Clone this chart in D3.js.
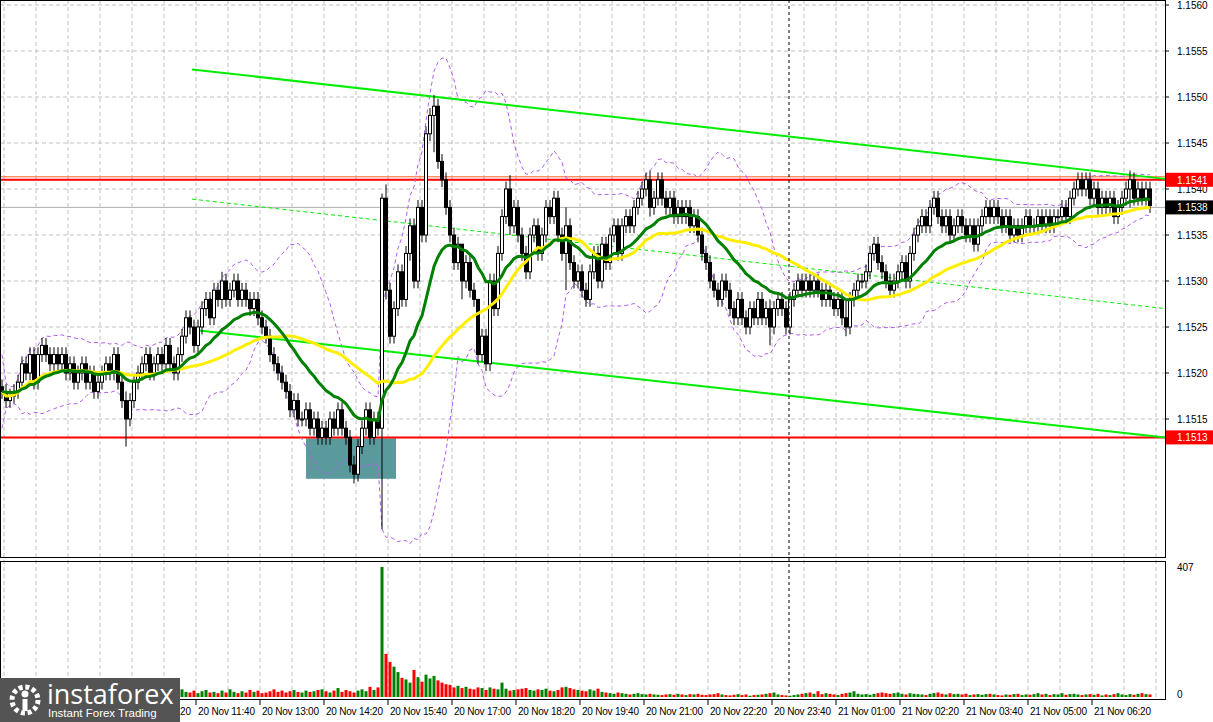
<!DOCTYPE html>
<html><head><meta charset="utf-8">
<script src="https://cdn.jsdelivr.net/npm/d3@7"></script>
<style>body{margin:0;background:#fff}svg{display:block;font-family:"Liberation Sans",Arial,sans-serif}</style>
</head><body>
<script>
// closes in pips above 1.1500, one per 5-minute bar
const closes = [
 18,17,17.5,18,19, 21,20,22,19,22, 23,22,21,22,21, 22,20,21,19,20,
 21,19,20,18,19, 20,21,20,22,19, 17,15,17,19,20, 21,22,20,21,22,
 21,23,21,20,22, 24,26,25,23,25, 27,28,26,29,28, 30,28,29,30,28,
 29,28,27,28,26, 25,24,22,21,20, 19,18,16,17,15, 15,16,14,15,13,
 14,13,15,14,16, 14,13,10,9,12, 14,16,13,15,14, 39,29,24,27,31,
 28,33,36,30,38, 35,46,48,49,43, 41,38,35,32,34, 30,32,29,28,22,
 24,21,30,27,33, 37,40,36,38,35, 33,31,35,36,33, 35,38,37,39,35,
 33,36,32,30,31, 29,28,31,33,30, 34,32,35,36,33, 36,37,36,38,39,
 40,41,38,39,41, 39,38,39,37,38, 37,38,36,37,35, 33,32,30,29,28,
 30,29,27,26,28, 26,25,27,26,28, 26,27,25,27,28, 27,25,28,29,30,
 29,30,29,30,29, 28,29,28,27,28, 26,25,28,29,30, 30,31,33,34,32,
 31,30,29,30,31, 32,30,33,35,36, 37,36,38,39,37, 36,37,35,36,37,
 36,35,36,34,36, 37,38,37,38,37, 36,37,35,36,35, 36,37,36,36,37,
 36,37,36,37,37, 38,37,39,40,41, 40,41,39,40,38, 39,38,39,37,38,
 39,40,41,39,40, 39,40,38.2
];
// notable wicks: [bar, high, low]
const spikes = [[31,18,12],[55,31,27],[88,11,8],[95,39.5,3],[96,40.5,28],[108,50.2,44],[115,33,28],[119,27,21],[127,41.5,35],[141,38,29],[162,42,37],[192,28,23],[211,28,24],[282,42,38]];
const volumes = [
 14,12,16,10,15, 18,12,20,14,16, 12,15,18,10,14, 16,12,14,18,12,
 10,14,16,12,18, 14,20,12,16,22, 18,24,14,16,12, 10,14,18,22,12,
 16,14,20,12,18, 24,16,14,20,12, 18,22,14,16,12, 20,14,24,16,12,
 18,14,22,16,20, 12,14,18,24,16, 20,14,18,22,16, 14,20,16,18,22,
 24,18,14,20,28, 16,22,18,14,20, 24,18,32,22,30, 407,135,110,95,78,
 60,55,45,85,62, 48,70,58,66,52, 45,40,38,30,35, 28,32,26,24,30,
 28,22,30,26,24, 45,26,20,22,24, 26,28,22,20,24, 22,26,20,18,22,
 30,32,28,24,22, 20,18,24,20,26, 16,14,12,10,14, 12,10,8,10,12,
 9,8,10,8,7, 6,8,9,7,10, 8,6,9,8,10, 7,6,8,9,12,
 8,6,5,7,9, 6,8,4,6,7, 8,10,12,14,8, 6,5,4,6,8,
 10,12,14,10,18, 9,12,10,8,6, 10,12,14,18,10, 8,9,7,10,12,
 14,12,10,12,14, 10,8,12,10,9, 8,6,10,12,14, 10,8,12,9,10,
 8,10,6,8,9, 7,9,10,8,6, 5,8,7,9,10, 6,8,7,9,12,
 8,10,6,9,8, 12,7,9,10,8, 6,8,9,7,10, 5,8,6,9,12,
 8,6,9,7,10, 12,9,8
];
const timeLabels = ["20 Nov 10:20","20 Nov 11:40","20 Nov 13:00","20 Nov 14:20","20 Nov 15:40","20 Nov 17:00","20 Nov 18:20","20 Nov 19:40","20 Nov 21:00","20 Nov 22:20","20 Nov 23:40","21 Nov 01:00","21 Nov 02:20","21 Nov 03:40","21 Nov 05:00","21 Nov 06:20"];
const priceTicks = [1.1515,1.1520,1.1525,1.1530,1.1535,1.1540,1.1545,1.1550,1.1555,1.1560];
const levels = [1.1541, 1.1513];
const lastPrice = 1.1538;
// trend lines: [bar0, price0, bar1, price1]
const trendLines = [[47.5,1.15530,290.8,1.15411],[47.5,1.15247,290.8,1.15130]];
const midLine = [47.5,1.15389,290.8,1.15270];

const W = 1213, H = 722, plotR = 1165;
const bars = closes.map((c, i) => {
  const o = i === 0 ? 18.5 : closes[i - 1];
  let hi = Math.max(o, c) + 0.8, lo = Math.min(o, c) - 0.8;
  const s = spikes.find(d => d[0] === i);
  if (s) { hi = s[1]; lo = s[2]; }
  return {i, o: 1.15 + o / 1e4, c: 1.15 + c / 1e4, h: 1.15 + hi / 1e4, l: 1.15 + lo / 1e4, v: volumes[i] || 5};
});

const svg = d3.select('body').append('svg').attr('width', W).attr('height', H);
const x = d3.scaleLinear().domain([0, 1]).range([2, 6]);
const y = d3.scaleLinear().domain([1.1515, 1.1560]).range([419, 5]);
const yv = d3.scaleLinear().domain([0, 407]).range([697, 567]);

// grid
const grid = svg.append('g').attr('stroke', '#c0c0c0').attr('stroke-dasharray', '4,3');
d3.range(4, plotR, 32).forEach(gx => grid.append('line').attr('x1', gx).attr('x2', gx).attr('y1', 0).attr('y2', 697));
priceTicks.forEach(p => grid.append('line').attr('x1', 0).attr('x2', plotR).attr('y1', y(p)).attr('y2', y(p)));

// teal box
svg.append('rect').attr('x', x(76)).attr('y', y(1.15129)).attr('width', x(98.5) - x(76)).attr('height', y(1.15085) - y(1.15129)).attr('fill', '#5a9a9c');

// levels
svg.append('line').attr('x1', 0).attr('x2', plotR).attr('y1', y(lastPrice)).attr('y2', y(lastPrice)).attr('stroke', '#b0b0b0');
svg.append('line').attr('x1', 0).attr('x2', plotR).attr('y1', y(levels[0]) - 3).attr('y2', y(levels[0]) - 3).attr('stroke', '#ff6020');
levels.forEach(p => svg.append('line').attr('x1', 0).attr('x2', plotR).attr('y1', y(p)).attr('y2', y(p)).attr('stroke', '#ff0000').attr('stroke-width', 2));

// indicators
function sma(n) { return bars.map((b, i) => d3.mean(bars.slice(Math.max(0, i - n + 1), i + 1), d => d.c)); }
function ema(n) { const k = 2 / (n + 1); let e = bars[0].c; return bars.map(b => (e = b.c * k + e * (1 - k))); }
const mid = sma(20);
const sd = bars.map((b, i) => d3.deviation(bars.slice(Math.max(0, i - 19), i + 1), d => d.c) || 0.0002);
const line = d3.line().x((d, i) => x(i)).y(d => y(d));
svg.append('path').attr('d', line(mid.map((m, i) => m + 2 * sd[i]))).attr('fill', 'none').attr('stroke', '#b45cf0').attr('stroke-dasharray', '4,3');
svg.append('path').attr('d', line(mid.map((m, i) => m - 2 * sd[i]))).attr('fill', 'none').attr('stroke', '#b45cf0').attr('stroke-dasharray', '4,3');

// trend lines
trendLines.forEach(t => svg.append('line').attr('x1', x(t[0])).attr('y1', y(t[1])).attr('x2', x(t[2])).attr('y2', y(t[3])).attr('stroke', '#00ee00').attr('stroke-width', 2));
svg.append('line').attr('x1', x(midLine[0])).attr('y1', y(midLine[1])).attr('x2', x(midLine[2])).attr('y2', y(midLine[3])).attr('stroke', '#00ee00').attr('stroke-dasharray', '4,3');

// candles
const cg = svg.append('g');
bars.forEach(b => {
  cg.append('line').attr('x1', x(b.i)).attr('x2', x(b.i)).attr('y1', y(b.h)).attr('y2', y(b.l)).attr('stroke', '#000');
  const top = y(Math.max(b.o, b.c)), bot = y(Math.min(b.o, b.c));
  cg.append('rect').attr('x', x(b.i) - 1.5).attr('y', top).attr('width', 3).attr('height', Math.max(1, bot - top))
    .attr('fill', b.c >= b.o ? '#fff' : '#000').attr('stroke', '#000').attr('stroke-width', 1);
});

svg.append('path').attr('d', line(sma(40))).attr('fill', 'none').attr('stroke', '#ffee00').attr('stroke-width', 3);
svg.append('path').attr('d', line(ema(21))).attr('fill', 'none').attr('stroke', '#008000').attr('stroke-width', 3);

// vertical dotted marker
svg.append('line').attr('x1', 789).attr('x2', 789).attr('y1', 0).attr('y2', 697).attr('stroke', '#000').attr('stroke-dasharray', '3,3');

// volumes
bars.forEach(b => svg.append('rect').attr('x', x(b.i) - 1.5).attr('y', yv(b.v)).attr('width', 3).attr('height', yv(0) - yv(b.v))
  .attr('fill', b.c >= b.o ? '#008000' : '#ff0000'));

// frames
svg.append('rect').attr('x', 0.5).attr('y', 0.5).attr('width', plotR).attr('height', 557).attr('fill', 'none').attr('stroke', '#000');
svg.append('rect').attr('x', 0.5).attr('y', 561.5).attr('width', plotR).attr('height', 138).attr('fill', 'none').attr('stroke', '#000');

// axes
const ax = svg.append('g').attr('font-size', 10).attr('fill', '#000');
priceTicks.forEach(p => {
  ax.append('line').attr('x1', plotR).attr('x2', plotR + 4).attr('y1', y(p)).attr('y2', y(p)).attr('stroke', '#000');
  ax.append('text').attr('x', 1177).attr('y', y(p) + 4).text(p.toFixed(4));
});
[[levels[0], '#ff0000'], [lastPrice, '#000'], [levels[1], '#ff0000']].forEach(([p, c]) => {
  ax.append('rect').attr('x', 1166).attr('y', y(p) - 7).attr('width', 47).attr('height', 14).attr('fill', c);
  ax.append('text').attr('x', 1177).attr('y', y(p) + 4).attr('fill', '#fff').text(p.toFixed(4));
});
ax.append('text').attr('x', 1177).attr('y', 571).text('407');
ax.append('text').attr('x', 1177).attr('y', 698).text('0');
timeLabels.forEach((t, k) => {
  const tx = 132 + 64 * k;
  ax.append('line').attr('x1', tx).attr('x2', tx).attr('y1', 700).attr('y2', 705).attr('stroke', '#000');
  ax.append('text').attr('x', tx + 2).attr('y', 715).attr('textLength', 57).text(t);
});

// logo
const lg = svg.append('g');
lg.append('rect').attr('x', 0).attr('y', 678).attr('width', 180).attr('height', 44).attr('fill', '#545454');
lg.append('circle').attr('cx', 25).attr('cy', 700).attr('r', 13).attr('fill', 'none').attr('stroke', '#fff').attr('stroke-width', 5).attr('stroke-dasharray', '4,2.8');
lg.append('circle').attr('cx', 25).attr('cy', 694).attr('r', 3.5).attr('fill', '#fff');
lg.append('rect').attr('x', 22.5).attr('y', 699).attr('width', 5).attr('height', 12).attr('fill', '#fff');
lg.append('text').attr('x', 47).attr('y', 704).attr('fill', '#fff').attr('font-size', 27).attr('font-family', 'Open Sans, sans-serif').text('instaforex');
lg.append('text').attr('x', 48).attr('y', 717).attr('fill', '#fff').attr('font-size', 11.5).text('Instant Forex Trading');
</script>
</body></html>
